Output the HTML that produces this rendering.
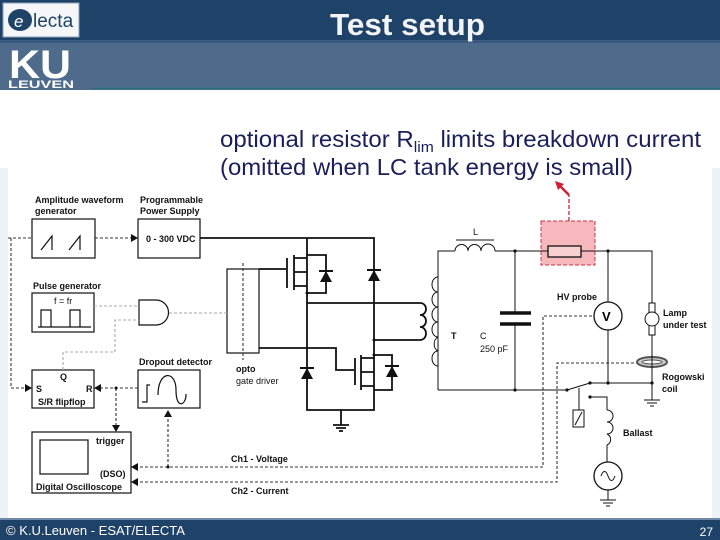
<!DOCTYPE html>
<html><head><meta charset="utf-8"><style>
html,body{margin:0;padding:0;width:720px;height:540px;overflow:hidden;background:#eef2f6;font-family:"Liberation Sans",sans-serif}
</style></head><body>
<svg width="720" height="540" viewBox="0 0 720 540" xmlns="http://www.w3.org/2000/svg" font-family="Liberation Sans, sans-serif">
<rect x="0" y="0" width="720" height="540" fill="#eef2f6"/>
<rect x="0" y="90" width="720" height="78" fill="#ffffff"/>
<rect x="8" y="168" width="704" height="350" fill="#ffffff"/>
<!-- header -->
<rect x="0" y="0" width="720" height="42" fill="#1f4268"/>
<rect x="0" y="42" width="720" height="48" fill="#4f6b8c"/>
<rect x="0" y="40" width="720" height="3" fill="#3a5a80"/>
<line x1="92" y1="88.5" x2="720" y2="88.5" stroke="#2f6f78" stroke-width="1.5"/>
<rect x="3" y="3" width="76" height="34" fill="#f4f6f8" stroke="#8aa0b8"/>
<ellipse cx="20" cy="20" rx="12" ry="11" fill="#1f4268"/>
<text x="33" y="27" font-size="19" fill="#1f4268">lecta</text>
<text x="14" y="27" font-size="17" fill="#fff" font-style="italic">e</text>
<text x="9" y="78" font-size="40" font-weight="bold" fill="#fff" textLength="62" lengthAdjust="spacingAndGlyphs">KU</text>
<text x="8" y="88" font-size="11" font-weight="bold" fill="#fff" textLength="66" lengthAdjust="spacingAndGlyphs">LEUVEN</text>
<text x="330" y="35" font-size="31" font-weight="bold" fill="#f2f4f8" textLength="155" lengthAdjust="spacingAndGlyphs">Test setup</text>
<!-- subtitle -->
<text x="220" y="147" font-size="23" fill="#1a1f5a" textLength="481" lengthAdjust="spacingAndGlyphs">optional resistor R<tspan font-size="15" dy="5">lim</tspan><tspan dy="-5"> limits breakdown current</tspan></text>
<text x="220" y="175" font-size="23" fill="#1a1f5a" textLength="413" lengthAdjust="spacingAndGlyphs">(omitted when LC tank energy is small)</text>
<g font-size="9" font-weight="bold" fill="#111">
<text x="35" y="203">Amplitude waveform</text><text x="35" y="214">generator</text>
<text x="140" y="203">Programmable</text><text x="140" y="214">Power Supply</text>
<text x="33" y="289">Pulse generator</text>
<text x="139" y="365">Dropout detector</text>
<text x="236" y="372">opto</text><text x="236" y="384" font-weight="normal">gate driver</text>
<text x="60" y="380">Q</text><text x="36" y="392">S</text><text x="86" y="392">R</text>
<text x="38" y="405">S/R flipflop</text>
<text x="96" y="444">trigger</text><text x="100" y="477">(DSO)</text>
<text x="36" y="490">Digital Oscilloscope</text>
<text x="231" y="462">Ch1 - Voltage</text><text x="231" y="494">Ch2 - Current</text>
<text x="146" y="242">0 - 300 VDC</text>
<text x="54" y="304" font-weight="normal">f = fr</text>
<text x="473" y="235" font-weight="normal">L</text>
<text x="451" y="339">T</text><text x="480" y="339" font-weight="normal">C</text><text x="480" y="352" font-weight="normal">250 pF</text>
<text x="557" y="300">HV probe</text>
<text x="663" y="316">Lamp</text><text x="663" y="328">under test</text>
<text x="662" y="380">Rogowski</text><text x="662" y="392">coil</text>
<text x="623" y="436">Ballast</text>
<text x="555" y="235" font-size="8" font-weight="normal">R<tspan font-weight="bold" font-size="9" dy="3">lim</tspan></text>
</g>
<!-- blocks -->
<g fill="none" stroke="#111" stroke-width="1.2">
<rect x="32" y="219" width="63" height="39"/>
<path d="M41 250 L52 236 V250 M69 250 L80 236 V250"/>
<rect x="138" y="219" width="62" height="39"/>
<rect x="32" y="293" width="62" height="39"/>
<path d="M38 327 H91 M41 327 V310 H51 V327 M70 327 V310 H80 V327"/>
<path d="M139 300 H156 A12 12 0 0 1 156 325 H139 Z"/>
<rect x="227" y="269" width="32" height="84"/>
<rect x="32" y="370" width="62" height="38"/>
<rect x="138" y="370" width="62" height="38"/>
<path d="M142 402 H147 V385 H150 M158 395 C158 370 176 370 176 390 C176 410 186 405 186 395 V394"/>
<rect x="32" y="432" width="99" height="61"/>
<rect x="40" y="440" width="48" height="34"/>
</g>
<!-- dashed signal lines -->
<g fill="none" stroke="#333" stroke-width="1.1" stroke-dasharray="3,2">
<path d="M8 238 H32 M95 238 H132"/>
<path d="M11 238 V388 H30"/>
<path d="M138 388 H98"/>
<path d="M116 388 V428"/>
<path d="M168 414 V467"/>
<path d="M243 263 V360"/>
<path d="M135 467 H543 V316 H594"/>
<path d="M135 482 H557 V363 H637"/>
</g>
<g fill="none" stroke="#aaa" stroke-width="1.1" stroke-dasharray="3,2">
<path d="M94 306 H139 M169 313 H227 M63 370 V352 H115 V320 H139"/>
</g>
<g fill="#111">
<path d="M138 238 L131 234 V242 Z M32 388 L25 384 V392 Z M94 388 L101 384 V392 Z M116 432 L112 425 H120 Z M168 410 L164 417 H172 Z M131 467 L138 463 V471 Z M131 482 L138 478 V486 Z"/>
<circle cx="116" cy="388" r="1.5"/><circle cx="168" cy="467" r="1.5"/>
</g>
<!-- power stage -->
<g fill="none" stroke="#111" stroke-width="1.8">
<path d="M200 238 H374 V410 H307 V238"/>
<path d="M259 269 H286 M287 258 V288 M294 255 V290 M294 258 H307 M294 272 H307 M294 286 H307"/>
<path d="M307 255 H326 V293 H307"/>
<path d="M307 303 H420 M374 340 H420"/>
<path d="M420 303 c8 0 8 12 0 12 c8 0 8 12 0 12 c8 0 8 13 0 13"/>
<path d="M259 348 H336 V370 H354 M355 358 V385 M361 355 V390 M361 358 H374 M361 372 H374 M361 386 H374 M374 355 H392 V390 H374"/>
<path d="M341 410 V425 M333 425 H349 M336 428 H346 M339 431 H343"/>
</g>
<g fill="#111">
<path d="M326 271 L320 282 H332 Z"/><rect x="319" y="270" width="14" height="2"/>
<path d="M374 270 L368 281 H380 Z"/><rect x="367" y="269" width="14" height="2"/>
<path d="M307 368 L301 379 H313 Z"/><rect x="300" y="367" width="14" height="2"/>
<path d="M392 366 L386 377 H398 Z"/><rect x="385" y="365" width="14" height="2"/>
<circle cx="307" cy="293" r="1.5"/><circle cx="374" cy="340" r="1.5"/><circle cx="374" cy="355" r="1.5"/>
</g>
<!-- resonant circuit -->
<rect x="541" y="221" width="54" height="44" fill="#f6b8bc" stroke="#cc3344" stroke-dasharray="4,2"/>
<path d="M569 221 V195" stroke="#cc2233" stroke-width="1.3" stroke-dasharray="4,2" fill="none"/>
<path d="M569 195 L560 186" stroke="#cc2233" stroke-width="2.5" fill="none"/>
<path d="M555 181 L564 184 L558 190 Z" fill="#cc2233"/>
<g fill="none" stroke="#111" stroke-width="1">
<path d="M438 390 V251 H455 M495 251 H548 M581 251 H652 V303 M652 335 V383 H590 M608 251 V302 M608 330 V383"/>
<path d="M455 251 a6 6 0 0 1 13 0 a6 6 0 0 1 13 0 a6 6 0 0 1 14 0"/>
<path d="M456 240 H494"/>
<path d="M438 277 a6 7.5 0 0 0 0 15 a6 7.5 0 0 0 0 15 a6 7.5 0 0 0 0 15 a6 7.5 0 0 0 0 15 a6 7.5 0 0 0 0 14 a6 7.5 0 0 0 0 15"/>
<path d="M515 251 V313 M515 324 V390 M438 390 H567 L590 383 M579 388 V410 M590 397 H607 V410 M607 445 V462 M608 490 V500 M600 500 H616 M603 503 H613 M606 506 H610 M652 383 V400 M644 400 H660 M647 403 H657 M650 406 H654"/>
<path d="M607 410 a6 6 0 0 1 0 12 a6 6 0 0 1 0 12 a6 6 0 0 1 0 11"/>
<rect x="573" y="410" width="11" height="17"/><path d="M575 425 L582 412"/>
</g>
<rect x="548" y="246" width="33" height="11" fill="#f8d0d2" stroke="#111" stroke-width="1.3"/>
<g stroke="#111" stroke-width="3.5"><path d="M500 313 H531 M500 324 H531"/></g>
<circle cx="608" cy="316" r="14" fill="#fff" stroke="#111" stroke-width="1.3"/>
<text x="602" y="321" font-size="13" font-weight="bold">V</text>
<circle cx="608" cy="476" r="14" fill="#fff" stroke="#111" stroke-width="1.3"/>
<path d="M601 476 c2 -6 5 -6 7 0 c2 6 5 6 7 0" fill="none" stroke="#111"/>
<rect x="649" y="303" width="6" height="10" fill="#fff" stroke="#111"/>
<rect x="649" y="325" width="6" height="10" fill="#fff" stroke="#111"/>
<circle cx="652" cy="319" r="7" fill="#fff" stroke="#111"/>
<ellipse cx="652" cy="362" rx="15" ry="5" fill="#ccc" stroke="#555" stroke-width="2"/>
<ellipse cx="652" cy="362" rx="10" ry="2" fill="#fff" stroke="#555"/>
<path d="M652 343 V383" stroke="#111"/>
<g fill="#111"><circle cx="515" cy="251" r="1.6"/><circle cx="608" cy="251" r="1.6"/><circle cx="515" cy="390" r="1.6"/><circle cx="608" cy="383" r="1.6"/><circle cx="652" cy="383" r="1.6"/><circle cx="567" cy="390" r="1.6"/><circle cx="590" cy="383" r="1.6"/><circle cx="590" cy="397" r="1.6"/></g>
<!-- footer -->
<rect x="0" y="518" width="720" height="22" fill="#1f4268"/>
<rect x="0" y="518" width="720" height="2" fill="#6f8aa8"/>
<text x="6" y="535" font-size="13" fill="#fff">© K.U.Leuven - ESAT/ELECTA</text>
<text x="713" y="536" font-size="12" fill="#fff" text-anchor="end">27</text>
</svg>
</body></html>
